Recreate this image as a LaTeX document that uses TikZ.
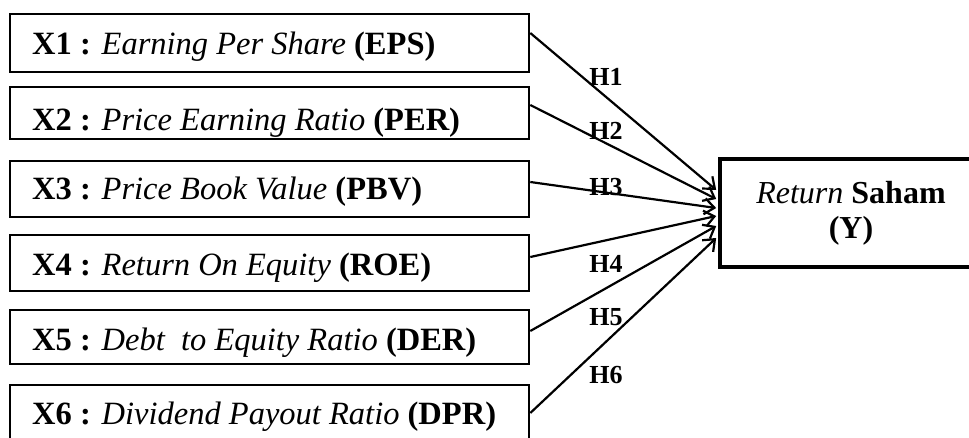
\documentclass[tikz,border=0pt]{standalone}
\usepackage{fontspec}
\setmainfont{Liberation Serif}
\usetikzlibrary{arrows.meta}
\usetikzlibrary{calc}

\begin{document}
\begin{tikzpicture}[x=1pt, y=-1pt,
            varbox/.style = {draw, line width=2.6pt, minimum width=519pt, inner sep=0pt},
            vartext/.style = {anchor=base west, inner sep=0pt, font=\fontsize{32.5}{38}\selectfont},
            hyp/.style = {inner sep=0pt, font=\fontsize{26}{30}\selectfont\bfseries},
            hypline/.style = {line width=2.2pt, -{Straight Barb[length=10pt, width=16pt, line width=2.2pt]}}]
            \useasboundingbox (0,0) rectangle (969,437);
            \node[varbox, minimum height=58pt] (x1) at (269.5,43) {};
            \node[varbox, minimum height=52pt] (x2) at (269.5,113) {};
            \node[varbox, minimum height=56pt] (x3) at (269.5,189) {};
            \node[varbox, minimum height=56pt] (x4) at (269.5,263) {};
            \node[varbox, minimum height=54pt] (x5) at (269.5,337) {};
            \node[varbox, minimum height=58pt] (x6) at (269.5,414) {};
            \node[vartext] (t1) at (32,54) {\textbf{X1 :} \textit{Earning Per Share} \textbf{(EPS)}};
            \begin{scope}
                \clip (x2.north west) rectangle ([yshift=4pt]x2.south east);
                \node[vartext] (t2) at (32,130) {\textbf{X2 :} \textit{Price Earning Ratio} \textbf{(PER)}};
            \end{scope}
            \node[vartext] (t3) at (32,199) {\textbf{X3 :} \textit{Price Book Value} \textbf{(PBV)}};
            \node[vartext] (t4) at (32,275) {\textbf{X4 :} \textit{Return On Equity} \textbf{(ROE)}};
            \node[vartext] (t5) at (32,350) {\textbf{X5 :} \textit{Debt\ \ to Equity Ratio} \textbf{(DER)}};
            \node[vartext] (t6) at (32,424) {\textbf{X6 :} \textit{Dividend Payout Ratio} \textbf{(DPR)}};
            \node[draw, line width=3.6pt, minimum width=262pt, minimum height=108pt, align=center,
                  font=\fontsize{32}{35}\selectfont] (ret) at (851,213) {\textit{Return} \textbf{Saham}\\\textbf{(Y)}};
            \draw[hypline] ([yshift=10pt]x1.east) -- ([xshift=-2pt,yshift=23pt]ret.west);
            \draw[hypline] ([yshift=8pt]x2.east) -- ([xshift=-2pt,yshift=14pt]ret.west);
            \draw[hypline] ([yshift=7pt]x3.east) -- ([xshift=-2pt,yshift=5pt]ret.west);
            \draw[hypline] ([yshift=6pt]x4.east) -- ([xshift=-2pt,yshift=-3pt]ret.west);
            \draw[hypline] ([yshift=6pt]x5.east) -- ([xshift=-2pt,yshift=-13pt]ret.west);
            \draw[hypline] ([yshift=1pt]x6.east) -- ([xshift=-2pt,yshift=-25pt]ret.west);
            \node[hyp] (h1) at (606,77) {H1};
            \node[hyp] (h2) at (606,131) {H2};
            \node[hyp] (h3) at (606,187) {H3};
            \node[hyp] (h4) at (606,264) {H4};
            \node[hyp] (h5) at (606,317) {H5};
            \node[hyp] (h6) at (606,375) {H6};
        \end{tikzpicture}
\end{document}
